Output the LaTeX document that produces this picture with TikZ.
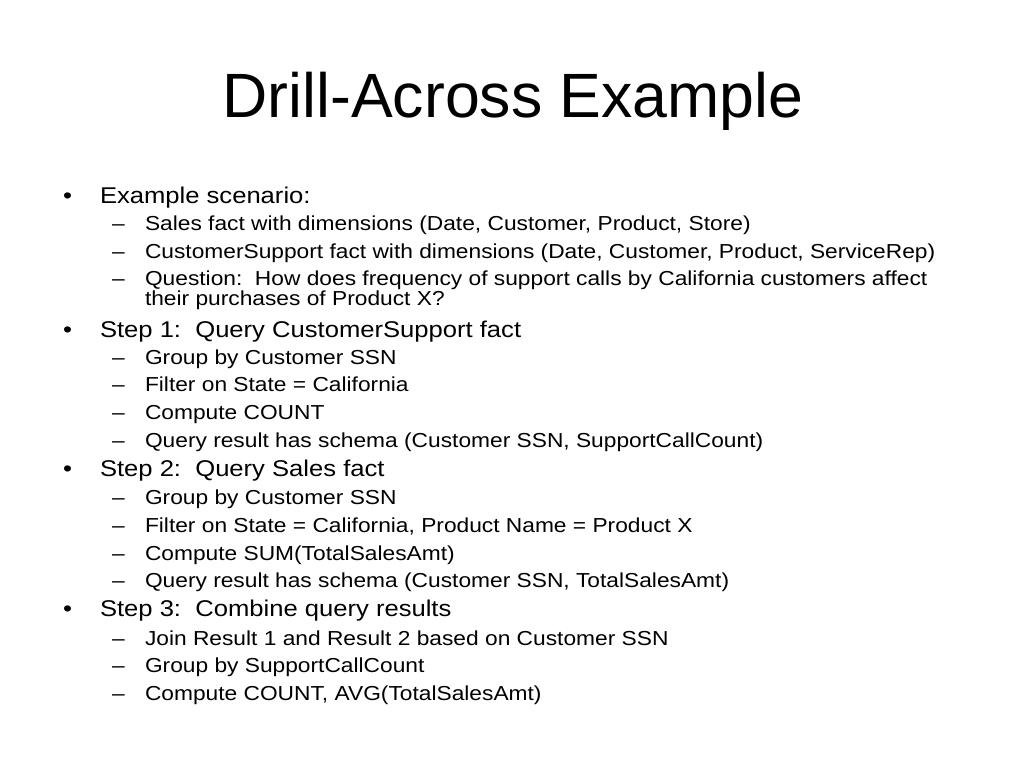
\documentclass[tikz,border=0pt]{standalone}
\usepackage{fontspec}
\setmainfont{Liberation Sans}
\begin{document}
\begin{tikzpicture}[x=1pt,y=-1pt,
  txt/.style={anchor=base west,inner sep=0pt,outer sep=0pt},
  ttl/.style={anchor=base,inner sep=0pt,font=\fontsize{62.6}{70}\selectfont},
  lone/.style={txt,font=\fontsize{25.6}{28}\selectfont},
  ltwo/.style={txt,font=\fontsize{22.75}{26}\selectfont}]
\useasboundingbox[fill=white] (0,0) rectangle (1024,768);
\newcommand{\sq}[1]{\scalebox{1}[0.89]{#1}}
\node[ttl] (title) at (513,117) {Drill-Across Example};
% level 1 bullets
\foreach \n/\y/\t in {a/203/{Example scenario:},b/337/{Step 1:\ \ Query CustomerSupport fact},c/476.5/{Step 2:\ \ Query Sales fact},d/616/{Step 3:\ \ Combine query results}}{
  \node[lone] (b\n) at (63,\y) {\sq{\textbullet}};
  \node[lone] (t\n) at (100,\y) {\sq{\t}};
}
% level 2 items
\foreach \n/\y/\t in {
 a1/230/{Sales fact with dimensions (Date, Customer, Product, Store)},
 a2/258/{CustomerSupport fact with dimensions (Date, Customer, Product, ServiceRep)},
 a3/285.5/{Question:\ \ How does frequency of support calls by California customers affect},
 b1/364/{Group by Customer SSN},
 b2/391.5/{Filter on State = California},
 b3/419.5/{Compute COUNT},
 b4/447/{Query result has schema (Customer SSN, SupportCallCount)},
 c1/504/{Group by Customer SSN},
 c2/532/{Filter on State = California, Product Name = Product X},
 c3/560/{Compute SUM(TotalSalesAmt)},
 c4/587/{Query result has schema (Customer SSN, TotalSalesAmt)},
 d1/645/{Join Result 1 and Result 2 based on Customer SSN},
 d2/672.5/{Group by SupportCallCount},
 d3/700/{Compute COUNT, AVG(TotalSalesAmt)}}{
  \node[ltwo] (d\n) at (112,\y) {\sq{–}};
  \node[ltwo] (s\n) at (145,\y) {\sq{\t}};
}
\node[ltwo] (sa3b) at (145,305.5) {\sq{their purchases of Product X?}};
\end{tikzpicture}
\end{document}
